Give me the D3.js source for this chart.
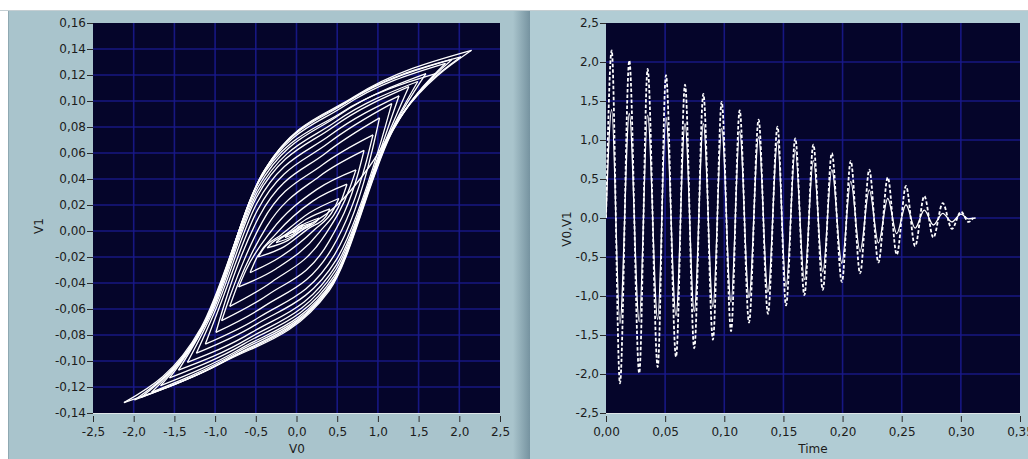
<!DOCTYPE html>
<html>
<head>
<meta charset="utf-8">
<script src="https://cdn.jsdelivr.net/npm/d3@7"></script>
<style>
  body { margin: 0; background: #ffffff; }
  svg text { font-family: "DejaVu Sans", sans-serif; font-size: 12px; fill: #1c1c1c; }
</style>
</head>
<body>
<div id="chart"></div>
<script>
// ---------------------------------------------------------------------------
// data
// ---------------------------------------------------------------------------

// time of each V0 maximum / minimum (right chart)
var peakTime = [0.0048, 0.0197, 0.0352, 0.0507, 0.0668, 0.0823, 0.0978, 0.1130, 0.1290, 0.1450,
    0.1600, 0.1753, 0.1909, 0.2069, 0.2226, 0.2382, 0.2536, 0.2691, 0.2847, 0.3001];
var troughTime = [0.0118, 0.0281, 0.0437, 0.0592, 0.0746, 0.0904, 0.1057, 0.1209, 0.1369, 0.1522,
    0.1677, 0.1833, 0.1994, 0.2148, 0.2303, 0.2458, 0.2613, 0.2767, 0.2924, 0.3065];

// V0 extremes (dashed trace, also the x of the loop tips)
var peakV0 = [2.15, 2.02, 1.91, 1.83, 1.71, 1.59, 1.49, 1.38, 1.26, 1.17,
    1.02, 0.94, 0.83, 0.73, 0.62, 0.52, 0.41, 0.28, 0.19, 0.08];
var troughV0 = [-2.12, -1.99, -1.91, -1.78, -1.67, -1.56, -1.45, -1.34, -1.23, -1.12,
    -0.99, -0.92, -0.82, -0.71, -0.57, -0.47, -0.36, -0.25, -0.14, -0.05];

// V1 extremes as drawn on the right chart (solid trace)
var peakV1 = [1.39, 1.34, 1.32, 1.29, 1.21, 1.21, 1.15, 1.11, 1.04, 0.98,
    0.87, 0.74, 0.62, 0.47, 0.36, 0.25, 0.17, 0.10, 0.06, 0.05];
var troughV1 = [-1.35, -1.33, -1.30, -1.25, -1.20, -1.14, -1.08, -1.02, -0.95, -0.88,
    -0.79, -0.69, -0.58, -0.43, -0.32, -0.20, -0.13, -0.09, -0.05, -0.01];
var endTimeV0 = 0.3105;
var endTimeV1 = 0.3125;

// loop tips on the left chart (V1 axis)
var loopPeakV1 = [0.139, 0.134, 0.132, 0.129, 0.121, 0.121, 0.115, 0.111, 0.104, 0.098,
    0.087, 0.074, 0.062, 0.047, 0.036, 0.025, 0.017, 0.010, 0.006, 0.005];
var loopTroughV1 = [-0.132, -0.130, -0.128, -0.124, -0.119, -0.113, -0.107, -0.101, -0.094, -0.087,
    -0.078, -0.069, -0.058, -0.043, -0.032, -0.020, -0.013, -0.009, -0.005, -0.001];

// rising branch (trough -> peak k): mid point M, knee P, knee Q
var riseMV0 = [0.50, -0.90, -0.85, -0.80, -0.75, -0.70, -0.65, -0.60, -0.55, -0.50,
    -0.45, -0.40, -0.35, -0.30, -0.25, -0.20, -0.15, -0.10, -0.05, -0.03];
var riseMV1 = [0.020, -0.101, -0.099, -0.097, -0.094, -0.091, -0.087, -0.083, -0.078, -0.072,
    -0.066, -0.058, -0.049, -0.039, -0.029, -0.020, -0.012, -0.007, -0.004, -0.002];
var risePV0 = [0.90, 0.40, 0.41, 0.42, 0.44, 0.46, 0.47, 0.48, 0.49, 0.49,
    0.47, 0.44, 0.40, 0.34, 0.28, 0.22, 0.15, 0.10, 0.07, 0.03];
var risePV1 = [0.050, -0.046, -0.044, -0.042, -0.040, -0.037, -0.034, -0.030, -0.026, -0.022,
    -0.018, -0.013, -0.008, -0.004, -0.001, 0.001, 0.002, 0.002, 0.001, 0.001];
var riseQV0 = [1.30, 1.19, 1.17, 1.15, 1.13, 1.11, 1.09, 1.07, 1.04, 1.01,
    0.93, 0.86, 0.76, 0.66, 0.56, 0.46, 0.36, 0.24, 0.16, 0.06];
var riseQV1 = [0.090, 0.078, 0.076, 0.074, 0.072, 0.070, 0.068, 0.066, 0.064, 0.063,
    0.062, 0.054, 0.045, 0.034, 0.025, 0.017, 0.011, 0.007, 0.004, 0.003];

// falling branch (peak k -> trough k): mid point M, knee P, knee Q
var fallMV0 = [0.70, 0.66, 0.62, 0.58, 0.55, 0.52, 0.48, 0.45, 0.42, 0.40,
    0.36, 0.32, 0.28, 0.25, 0.20, 0.16, 0.12, 0.08, 0.05, 0.02];
var fallMV1 = [0.103, 0.101, 0.099, 0.096, 0.091, 0.089, 0.084, 0.080, 0.074, 0.068,
    0.060, 0.051, 0.042, 0.032, 0.023, 0.014, 0.009, 0.005, 0.003, 0.003];
var fallPV0 = [-0.38, -0.40, -0.42, -0.44, -0.46, -0.47, -0.48, -0.49, -0.49, -0.48,
    -0.46, -0.42, -0.37, -0.31, -0.25, -0.19, -0.14, -0.09, -0.05, -0.02];
var fallPV1 = [0.048, 0.046, 0.044, 0.041, 0.038, 0.034, 0.030, 0.026, 0.021, 0.016,
    0.011, 0.007, 0.003, 0.000, -0.002, -0.003, -0.003, -0.002, -0.001, 0.000];
var fallQV0 = [-1.17, -1.15, -1.13, -1.11, -1.09, -1.07, -1.05, -1.02, -0.99, -0.95,
    -0.88, -0.81, -0.72, -0.62, -0.50, -0.41, -0.30, -0.20, -0.11, -0.04];
var fallQV1 = [-0.074, -0.073, -0.071, -0.069, -0.067, -0.065, -0.063, -0.061, -0.060, -0.059,
    -0.055, -0.049, -0.041, -0.030, -0.022, -0.014, -0.009, -0.006, -0.003, -0.001];

// tick values
var leftXTicks = [-2.5, -2.0, -1.5, -1.0, -0.5, 0.0, 0.5, 1.0, 1.5, 2.0, 2.5];
var leftYTicks = [-0.14, -0.12, -0.10, -0.08, -0.06, -0.04, -0.02, 0.00, 0.02, 0.04, 0.06, 0.08, 0.10, 0.12, 0.14, 0.16];
var rightXTicks = [0.00, 0.05, 0.10, 0.15, 0.20, 0.25, 0.30, 0.35];
var rightYTicks = [-2.5, -2.0, -1.5, -1.0, -0.5, 0.0, 0.5, 1.0, 1.5, 2.0, 2.5];

// ---------------------------------------------------------------------------
// page setup
// ---------------------------------------------------------------------------
var svg_width = 1028;
var svg_height = 459;

var locale = d3.formatLocale({ decimal: ",", thousands: ".", grouping: [3], currency: ["", ""], minus: "-" });
var fmt1 = locale.format(".1f");
var fmt2 = locale.format(".2f");

var svg = d3.select("#chart")
    .append("svg")
    .attr("width", svg_width)
    .attr("height", svg_height);

// window chrome: white strip, two grey-blue panels and the splitter
svg.append("rect").attr("width", svg_width).attr("height", svg_height).attr("fill", "#ffffff");
svg.append("line").attr("x1", 0).attr("x2", svg_width).attr("y1", 10.5).attr("y2", 10.5)
    .attr("stroke", "#c4ced2");

var defs = svg.append("defs");
var grad = defs.append("linearGradient").attr("id", "split");
grad.append("stop").attr("offset", "0%").attr("stop-color", "#a9c4cc");
grad.append("stop").attr("offset", "100%").attr("stop-color", "#7693a0");

svg.append("rect").attr("x", 8).attr("y", 11).attr("width", 507).attr("height", 448).attr("fill", "#a9c4cc");
svg.append("line").attr("x1", 8.5).attr("x2", 8.5).attr("y1", 11).attr("y2", svg_height).attr("stroke", "#8fa9b2");
svg.append("rect").attr("x", 513).attr("y", 11).attr("width", 17).attr("height", 448).attr("fill", "url(#split)");
svg.append("rect").attr("x", 530).attr("y", 11).attr("width", 498).attr("height", 448).attr("fill", "#b1ccd4");

// scales
var x_l = d3.scaleLinear().domain([-2.5, 2.5]).range([93, 500]);
var y_l = d3.scaleLinear().domain([-0.14, 0.16]).range([413, 23]);
var x_r = d3.scaleLinear().domain([0, 0.35]).range([606, 1020]);
var y_r = d3.scaleLinear().domain([-2.5, 2.5]).range([413, 23]);

// draw one plot frame: background, grid, axes
function drawFrame(id, x, y, xTicks, yTicks, xFmt, yFmt) {
    var x0 = x.range()[0], x1 = x.range()[1];
    var y0 = y.range()[1], y1 = y.range()[0];

    defs.append("clipPath").attr("id", id)
        .append("rect").attr("x", x0).attr("y", y0).attr("width", x1 - x0).attr("height", y1 - y0);

    svg.append("rect")
        .attr("x", x0).attr("y", y0)
        .attr("width", x1 - x0).attr("height", y1 - y0)
        .attr("fill", "#05052a");

    var grid = svg.append("g").attr("stroke", "#1a1a8c").attr("stroke-width", 1.6).attr("stroke-opacity", 0.9);
    grid.selectAll(".gx").data(xTicks.slice(1, -1)).enter().append("line")
        .attr("x1", d => x(d)).attr("x2", d => x(d))
        .attr("y1", y0).attr("y2", y1);
    grid.selectAll(".gy").data(yTicks.slice(1, -1)).enter().append("line")
        .attr("x1", x0).attr("x2", x1)
        .attr("y1", d => y(d)).attr("y2", d => y(d));

    // light rim under the plot
    svg.append("line").attr("x1", x0).attr("x2", x1).attr("y1", y1 + 0.5).attr("y2", y1 + 0.5)
        .attr("stroke", "#dfe6e9");

    var left_axis = d3.axisLeft(y).tickValues(yTicks).tickFormat(yFmt).tickSize(6).tickPadding(1);
    var ya = svg.append("g").attr("transform", `translate(${x0}, 0)`).call(left_axis);
    ya.select(".domain").remove();
    ya.selectAll("line").attr("stroke", "#2a2a2a");
    ya.selectAll("text").attr("fill", "#1c1c1c").style("font-size", "12px");

    var bottom_axis = d3.axisBottom(x).tickValues(xTicks).tickFormat(xFmt).tickSize(6).tickPadding(5);
    var xa = svg.append("g").attr("transform", `translate(0, ${y1 + 3})`).call(bottom_axis);
    xa.select(".domain").remove();
    xa.selectAll("line").attr("stroke", "#2a2a2a");
    xa.selectAll("text").attr("fill", "#1c1c1c").style("font-size", "12px");
}

drawFrame("clipL", x_l, y_l, leftXTicks, leftYTicks, fmt1, fmt2);
drawFrame("clipR", x_r, y_r, rightXTicks, rightYTicks, fmt2, fmt1);

// axis titles
svg.append("text").attr("x", 297).attr("y", 453).attr("text-anchor", "middle").text("V0");
svg.append("text").attr("transform", "translate(43, 226) rotate(-90)").attr("text-anchor", "middle").text("V1");
svg.append("text").attr("x", 813).attr("y", 453).attr("text-anchor", "middle").text("Time");
svg.append("text").attr("transform", "translate(571, 229) rotate(-90)").attr("text-anchor", "middle").text("V0,V1");

// ---------------------------------------------------------------------------
// left chart: V1 against V0, one path per branch
// ---------------------------------------------------------------------------
var branches = [];
for (var k = 0; k < peakV0.length; k++) {
    var start = k == 0 ? [0, 0] : [troughV0[k - 1], loopTroughV1[k - 1]];
    branches.push([start,
        [riseMV0[k], riseMV1[k]],
        [risePV0[k], risePV1[k]],
        [riseQV0[k], riseQV1[k]],
        [peakV0[k], loopPeakV1[k]]]);
    // falling branch listed with V0 increasing
    branches.push([[troughV0[k], loopTroughV1[k]],
        [fallQV0[k], fallQV1[k]],
        [fallPV0[k], fallPV1[k]],
        [fallMV0[k], fallMV1[k]],
        [peakV0[k], loopPeakV1[k]]]);
}
var last = peakV0.length - 1;
branches.push([[troughV0[last], loopTroughV1[last]], [0, 0]]);

var line_l = d3.line()
    .x(d => x_l(d[0]))
    .y(d => y_l(d[1]))
    .curve(d3.curveMonotoneX);

svg.append("g").attr("clip-path", "url(#clipL)")
    .selectAll("path")
    .data(branches)
    .enter()
    .append("path")
    .attr("d", line_l)
    .attr("fill", "none")
    .attr("stroke", "#ffffff")
    .attr("stroke-width", 1.3);

// ---------------------------------------------------------------------------
// right chart: V0 (dashed) and V1 (solid) against time
// ---------------------------------------------------------------------------
function seriesPoints(peaks, troughs, endT) {
    var pts = [[0, 0]];
    for (var i = 0; i < peakTime.length; i++) {
        pts.push([peakTime[i], peaks[i]]);
        pts.push([troughTime[i], troughs[i]]);
    }
    pts.push([endT, 0]);
    return pts;
}

var line_r = d3.line()
    .x(d => x_r(d[0]))
    .y(d => y_r(d[1]))
    .curve(d3.curveMonotoneX);

var plot_r = svg.append("g").attr("clip-path", "url(#clipR)");

plot_r.append("path")
    .datum(seriesPoints(peakV1, troughV1, endTimeV1))
    .attr("d", line_r)
    .attr("fill", "none")
    .attr("stroke", "#ffffff")
    .attr("stroke-width", 1.3);

plot_r.append("path")
    .datum(seriesPoints(peakV0, troughV0, endTimeV0))
    .attr("d", line_r)
    .attr("fill", "none")
    .attr("stroke", "#ffffff")
    .attr("stroke-width", 1.8)
    .attr("stroke-dasharray", "3.5,2");
</script>
</body>
</html>
